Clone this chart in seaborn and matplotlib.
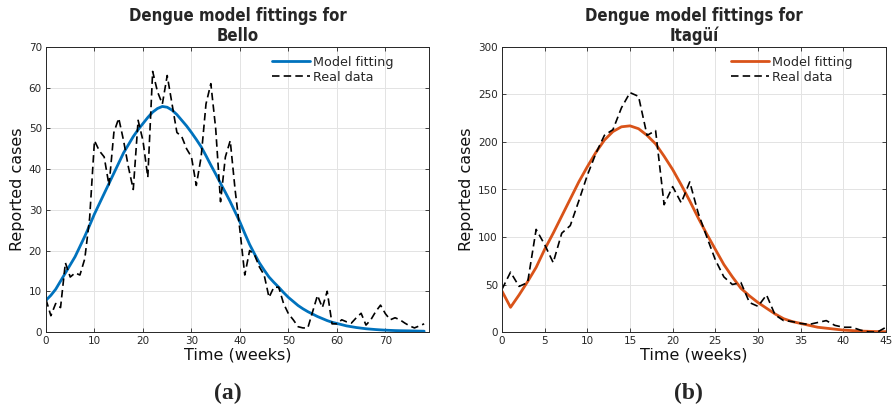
import numpy as np
import pandas as pd
import seaborn as sns
import matplotlib
matplotlib.use("Agg")
import matplotlib.pyplot as plt
from matplotlib.lines import Line2D

# ---------------- data ----------------
bello_weeks = list(range(0, 79))
bello_real = [8, 4, 7, 6, 17, 13.5, 14.5, 14, 18, 28,
              47, 44.5, 43, 36, 49, 52.5, 47, 40.5, 35, 52,
              47, 38, 64, 59, 56, 63, 56, 49, 48, 45,
              43, 36, 43, 56, 61, 50, 32, 43, 47, 35,
              25, 14, 20, 19, 16, 14, 8.5, 11, 11, 7,
              4.5, 3, 1.3, 1, 1, 5, 9, 6, 10, 2,
              2, 3, 2.5, 2.2, 3.5, 4.6, 1.7, 3, 5, 6.6,
              4.5, 3, 3.5, 3, 2.2, 1.5, 1, 1.5, 2]
bello_model = [7.8, 9, 10.5, 12.5, 14.5, 16.5, 18.5, 21, 23.5, 26.2,
               29, 31.5, 34, 36.5, 39, 41.5, 44, 46, 48, 49.7,
               51.2, 52.7, 54, 54.9, 55.4, 55.2, 54.5, 53.4, 52, 50.6,
               49, 47.3, 45.5, 43.3, 41, 38.8, 36.5, 34.3, 32, 29.5,
               27, 24.2, 21.5, 19.2, 17, 15.2, 13.5, 12.2, 11, 9.7,
               8.5, 7.5, 6.5, 5.7, 5, 4.4, 3.8, 3.3, 2.8, 2.4,
               2.1, 1.8, 1.5, 1.3, 1.1, 0.95, 0.8, 0.7, 0.6, 0.52,
               0.45, 0.4, 0.35, 0.32, 0.3, 0.28, 0.25, 0.22, 0.2]

itagui_weeks = list(range(0, 46))
itagui_real = [45, 63, 48, 52, 108, 92, 73, 104, 112, 138,
               165, 188, 207, 213, 236, 252, 248, 207, 212, 134,
               153, 136, 158, 125, 100, 76, 58, 50, 52, 31,
               27, 39, 18, 12, 11, 9, 8, 10, 12, 7,
               5, 5, 2, 0, 0, 5]
itagui_model = [43, 26, 39, 53, 68, 87, 104, 122, 140, 158,
                174, 189, 202, 211, 216, 217, 214, 207, 198, 185,
                171, 155, 138, 120, 103, 87, 71, 58, 46, 38,
                31, 25, 19, 14, 11, 9, 7, 5, 4, 3,
                2, 1.5, 1, 0.7, 0.4, 0.3]

titles = ["Dengue model fittings for\nBello", "Dengue model fittings for\nItagüí"]
panel_labels = ["(a)", "(b)"]
x_label = "Time (weeks)"
y_label = "Reported cases"
legend_labels = ["Model fitting", "Real data"]

# ---------------- style ----------------
sns.set_style("whitegrid")
plt.rcParams["font.family"] = ["DejaVu Sans"]

fig = plt.figure(figsize=(8.95, 4.11), dpi=100)
ax1 = fig.add_axes([46 / 895, 79 / 411, 383 / 895, 285 / 411])
ax2 = fig.add_axes([502 / 895, 79 / 411, 384 / 895, 285 / 411])

blue = "#0072BD"
orange = "#D95319"
dash = (0, (4.5, 2.5))

df_b_model = pd.DataFrame({"week": bello_weeks, "cases": bello_model})
df_b_real = pd.DataFrame({"week": bello_weeks, "cases": bello_real})
df_i_model = pd.DataFrame({"week": itagui_weeks, "cases": itagui_model})
df_i_real = pd.DataFrame({"week": itagui_weeks, "cases": itagui_real})

sns.lineplot(data=df_b_model, x="week", y="cases", ax=ax1, color=blue, lw=2.0)
sns.lineplot(data=df_b_real, x="week", y="cases", ax=ax1, color="black", lw=1.2,
             linestyle=dash)
sns.lineplot(data=df_i_model, x="week", y="cases", ax=ax2, color=orange, lw=2.0)
sns.lineplot(data=df_i_real, x="week", y="cases", ax=ax2, color="black", lw=1.2,
             linestyle=dash)

ax1.set_xlim(0, 79)
ax1.set_ylim(0, 70)
ax1.set_xticks(np.arange(0, 71, 10))
ax1.set_yticks(np.arange(0, 71, 10))
ax2.set_xlim(0, 45)
ax2.set_ylim(0, 300)
ax2.set_xticks(np.arange(0, 46, 5))
ax2.set_yticks(np.arange(0, 301, 50))

legend_anchor = [(0.93, 1.0), (0.935, 1.0)]

for ax, title, col, anc in zip([ax1, ax2], titles, [blue, orange], legend_anchor):
    ax.set_facecolor("white")
    ax.grid(True, color="#e3e3e3", lw=0.7)
    for sp in ax.spines.values():
        sp.set_visible(True)
        sp.set_color("#262626")
        sp.set_linewidth(0.7)
    ax.tick_params(direction="in", length=3, width=0.6, colors="#262626",
                   labelsize=7.5, top=True, right=True, bottom=True, left=True,
                   pad=3)
    ax.set_xlabel(x_label, fontsize=11.5, labelpad=1, color="#111111")
    ax.set_ylabel(y_label, fontsize=11.5, labelpad=3, color="#111111")
    ax.set_title(title, fontsize=12, fontweight="bold", fontstretch="condensed",
                 linespacing=1.15, pad=4)
    handles = [Line2D([], [], color=col, lw=2.0),
               Line2D([], [], color="black", lw=1.2, linestyle=dash)]
    ax.legend(handles, legend_labels, loc="upper right", bbox_to_anchor=anc,
              frameon=False, fontsize=9.2, handlelength=3.0, handletextpad=0.2,
              labelspacing=0.15, borderaxespad=0.3)

fig.text(228 / 895, 1 - 393 / 411, panel_labels[0], ha="center", va="center",
         fontsize=17, fontweight="bold", family=["Liberation Serif", "DejaVu Serif"])
fig.text(688 / 895, 1 - 393 / 411, panel_labels[1], ha="center", va="center",
         fontsize=17, fontweight="bold", family=["Liberation Serif", "DejaVu Serif"])

fig.savefig("out.png", dpi=100, facecolor="white")
